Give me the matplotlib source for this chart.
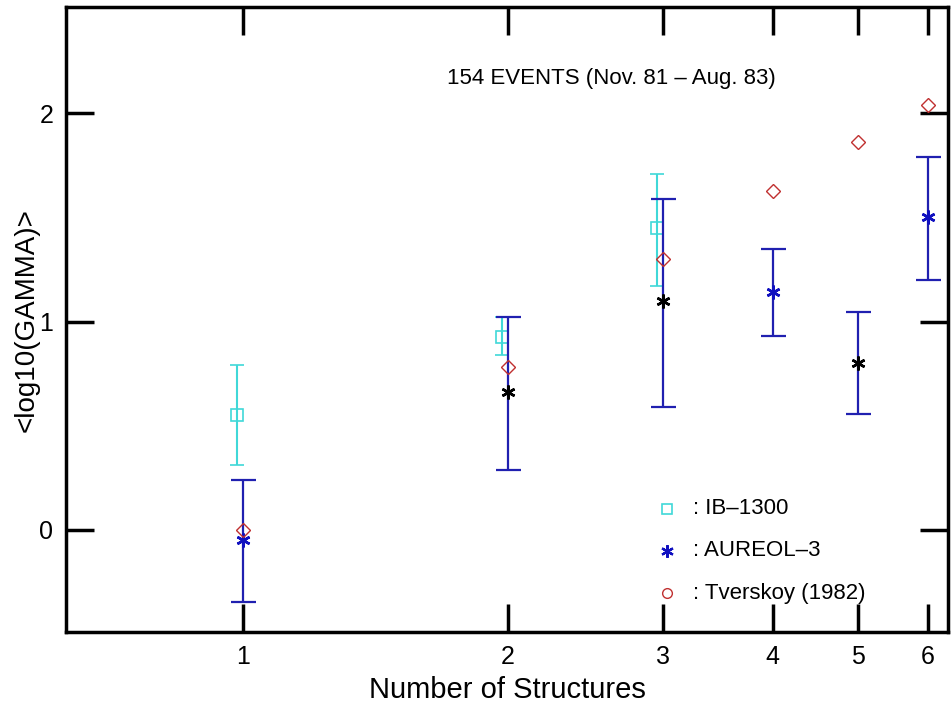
import matplotlib
matplotlib.use("Agg")
import matplotlib.pyplot as plt

plt.rcParams['font.family'] = ['Liberation Sans', 'DejaVu Sans']

# IB-1300 (cyan squares)
ib_x = [1, 2, 3]
ib_y = [0.55, 0.925, 1.45]
ib_lo = [0.31, 0.84, 1.17]
ib_hi = [0.79, 1.02, 1.71]

# AUREOL-3 (asterisks)
au_x = [1, 2, 3, 4, 5, 6]
au_y = [-0.05, 0.66, 1.10, 1.14, 0.80, 1.50]
au_lo = [-0.345, 0.29, 0.59, 0.93, 0.555, 1.20]
au_hi = [0.24, 1.02, 1.59, 1.35, 1.045, 1.79]
au_col = ['#1010c0', 'black', 'black', '#1010c0', 'black', '#1010c0']

# Tverskoy (1982) (diamonds)
tv_x = [1, 2, 3, 4, 5, 6]
tv_y = [0.0, 0.78, 1.30, 1.625, 1.86, 2.04]

xticks = [1, 2, 3, 4, 5, 6]
yticks = [0, 1, 2]

fig = plt.figure(figsize=(9.51, 7.07), dpi=100)
ax = fig.add_axes([0.0694, 0.106, 0.9274, 0.884])
ax.set_xscale('log')

ax.errorbar([x * 0.985 for x in ib_x], ib_y,
            yerr=[[y - l for y, l in zip(ib_y, ib_lo)], [h - y for y, h in zip(ib_y, ib_hi)]],
            fmt='none', ecolor='#40d8d8', elinewidth=1.5, capsize=5, capthick=1.2)
ax.plot([x * 0.985 for x in ib_x], ib_y, 's', ms=8, mfc='none', mec='#40d8d8', mew=1.2)

ax.errorbar(au_x, au_y,
            yerr=[[y - l for y, l in zip(au_y, au_lo)], [h - y for y, h in zip(au_y, au_hi)]],
            fmt='none', ecolor='#2020b0', elinewidth=1.6, capsize=9, capthick=1.6)
for x, y, c in zip(au_x, au_y, au_col):
    ax.plot(x, y, marker=(6, 2, 0), ms=10, color=c, mew=1.8)

ax.plot(tv_x, tv_y, 'D', ms=7.5, mfc='none', mec='#c03030', mew=1.0)

ax.set_xlim(0.629, 6.33)
ax.set_ylim(-0.49, 2.51)
ax.set_xticks(xticks)
ax.set_xticklabels([str(t) for t in xticks])
ax.minorticks_off()
ax.set_yticks(yticks)
ax.tick_params(direction='in', length=20, width=2.5, labelsize=18,
               top=True, right=True, pad=9)
for sp in ax.spines.values():
    sp.set_linewidth(2.5)

ax.set_xlabel('Number of Structures', fontsize=21, labelpad=5)
ax.set_ylabel('<log10(GAMMA)>', fontsize=20, labelpad=0)

ax.text(0.618, 0.886, '154 EVENTS (Nov. 81 – Aug. 83)', transform=ax.transAxes,
        ha='center', va='center', fontsize=16)

# legend drawn as markers and text inside the axes
leg_x = 0.681
leg_y = [0.197, 0.13, 0.062]
ax.plot(leg_x, leg_y[0], 's', ms=7, mfc='none', mec='#40d8d8', mew=1.2, transform=ax.transAxes)
ax.plot(leg_x, leg_y[1], marker=(6, 2, 0), ms=9, color='#1010c0', mew=1.6, transform=ax.transAxes)
ax.plot(leg_x, leg_y[2], 'o', ms=7, mfc='none', mec='#c03030', mew=1.0, transform=ax.transAxes)
for y, lab in zip(leg_y, [': IB–1300', ': AUREOL–3', ': Tverskoy (1982)']):
    ax.text(0.711, y, lab, transform=ax.transAxes, ha='left', va='center', fontsize=16)

fig.savefig('out.png', dpi=100)
